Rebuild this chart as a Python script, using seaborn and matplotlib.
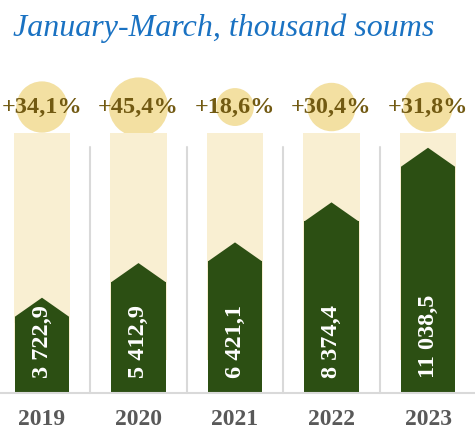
import numpy as np
import pandas as pd
import matplotlib
matplotlib.use("Agg")
import matplotlib.pyplot as plt
from matplotlib.patches import Polygon
import seaborn as sns

# Data
years = ["2019", "2020", "2021", "2022", "2023"]
values = [3722.9, 5412.9, 6421.1, 8374.4, 11038.5]
value_labels = ["3 722,9", "5 412,9", "6 421,1", "8 374,4", "11 038,5"]
growth = [34.1, 45.4, 18.6, 30.4, 31.8]
growth_labels = ["+34,1%", "+45,4%", "+18,6%", "+30,4%", "+31,8%"]

GREEN = "#2c4f13"
BEIGE = "#f9efd2"
GOLD = "#f3e0a2"
PCT_COLOR = "#725a12"
TITLE_BLUE = "#1a72c2"
YEAR_GRAY = "#595959"
RULE_GRAY = "#d9d9d9"

SERIF = ["Liberation Serif", "DejaVu Serif"]

sns.set_theme(style="white")
plt.rcParams["font.family"] = SERIF

df = pd.DataFrame({"year": years, "value": values, "growth": growth})

W, H = 475, 430
fig = plt.figure(figsize=(W / 100, H / 100), dpi=100)
ax = fig.add_axes([0, 0, 1, 1])

XLIM = (-0.435, 4.487)
YLIM = (-1805, 19171)

bar_w = 0.56
back_w = 0.59
tip_h = 925          # height of the chevron point above the bar value
back_top = 12680
back_bottom = 1600
label_y = 13950

xs = np.arange(len(years))

# pale backdrop columns
ax.bar(xs, back_top - back_bottom, bottom=back_bottom, width=back_w,
       color=BEIGE, zorder=2, linewidth=0)

# growth bubbles (area proportional to growth)
sns.scatterplot(data=df, x=xs, y=[label_y] * len(xs), size="growth",
                sizes=(0, 2000), size_norm=(0, 50), color=GOLD,
                edgecolor="none", legend=False, ax=ax, zorder=1)

# main bars
sns.barplot(data=df, x="year", y="value", order=years, color=GREEN,
            width=bar_w, saturation=1, ax=ax, zorder=3, linewidth=0)

# chevron caps on top of each bar (overlapping the bar top to avoid a seam)
for i, v in enumerate(values):
    cap = Polygon([(i - bar_w / 2, v - 300), (i - bar_w / 2, v),
                   (i, v + tip_h), (i + bar_w / 2, v),
                   (i + bar_w / 2, v - 300)],
                  closed=True, facecolor=GREEN, edgecolor="none", zorder=3)
    ax.add_patch(cap)

# value labels inside bars
for i, lab in enumerate(value_labels):
    ax.text(i, 730, lab, rotation=90, ha="center", va="bottom",
            color="white", fontsize=17.5, fontweight="bold", zorder=5)

# growth labels
for i, lab in enumerate(growth_labels):
    ax.text(i, label_y, lab, ha="center", va="center", color=PCT_COLOR,
            fontsize=17.5, fontweight="bold", zorder=5)

# separators and baseline
for i in range(len(years) - 1):
    ax.plot([i + 0.5, i + 0.5], [0, 12000], color=RULE_GRAY, lw=1.5, zorder=1)
ax.axhline(0, color=RULE_GRAY, lw=1.5, zorder=4)

# year labels
for i, y in enumerate(years):
    ax.text(i, -1310, y, ha="center", va="center", color=YEAR_GRAY,
            fontsize=17, fontweight="bold")

ax.set_xlim(*XLIM)
ax.set_ylim(*YLIM)
ax.axis("off")

fig.text(13 / W, 1 - 36 / H, "January-March, thousand soums", ha="left",
         va="baseline", color=TITLE_BLUE, fontsize=23, fontstyle="italic",
         family=SERIF)

fig.savefig("out.png", dpi=100)
